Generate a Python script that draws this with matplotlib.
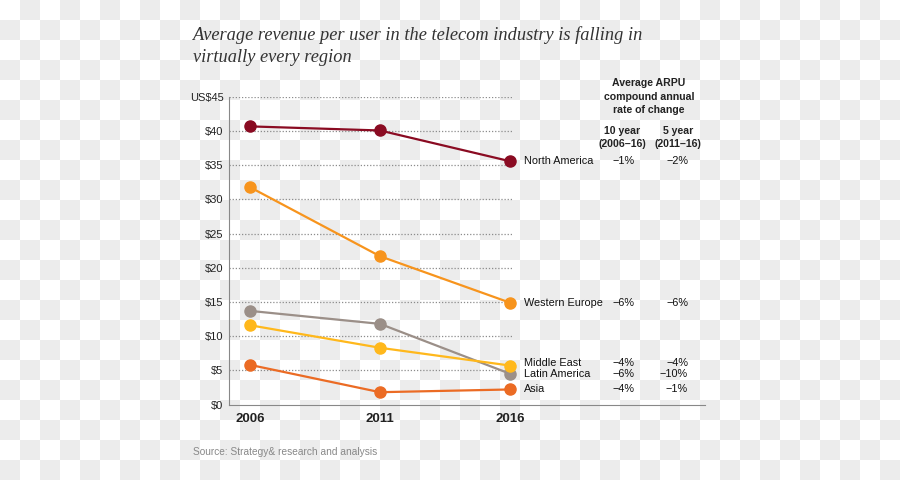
import numpy as np
import matplotlib
matplotlib.use("Agg")
import matplotlib.pyplot as plt

years = [2006, 2011, 2016]
regions = ["North America", "Western Europe", "Latin America", "Middle East", "Asia"]
north_america = [40.7, 40.1, 35.6]
western_europe = [31.8, 21.7, 14.9]
latin_america = [13.7, 11.8, 4.5]
middle_east = [11.6, 8.3, 5.7]
asia = [5.8, 1.8, 2.2]
cagr_10yr = ["\u22121%", "\u22126%", "\u22126%", "\u22124%", "\u22124%"]
cagr_5yr = ["\u22122%", "\u22126%", "\u221210%", "\u22124%", "\u22121%"]
y_ticks = [0, 5, 10, 15, 20, 25, 30, 35, 40, 45]
y_labels = ["$0", "$5", "$10", "$15", "$20", "$25", "$30", "$35", "$40", "US$45"]

colors = {
    "North America": "#8a0b22",
    "Western Europe": "#f7941d",
    "Latin America": "#9b8f88",
    "Middle East": "#ffb81c",
    "Asia": "#eb6b24",
}
series = {
    "North America": north_america,
    "Western Europe": western_europe,
    "Latin America": latin_america,
    "Middle East": middle_east,
    "Asia": asia,
}
# where each label row sits (data units)
label_y = {
    "North America": 35.6,
    "Western Europe": 14.9,
    "Middle East": 6.1,
    "Latin America": 4.5,
    "Asia": 2.3,
}

plt.rcParams["font.family"] = ["Liberation Sans", "DejaVu Sans"]

fig = plt.figure(figsize=(9, 4.8), dpi=100)

# checkered transparency-style background, 20 px squares
yy, xx = np.mgrid[0:480, 0:900]
checker = ((yy // 20 + xx // 20) % 2).astype(float)
rgb = np.where(checker[..., None] == 1, 236 / 255, 1.0) * np.ones((1, 1, 3))
fig.figimage(rgb, xo=0, yo=0, origin="upper", zorder=-10)

ax = fig.add_axes([229 / 900, 1 - 404.5 / 480, 476 / 900, 307.5 / 480])
ax.patch.set_alpha(0)
x_left = 2006 - 21 / 26
x_right = 2016 + 195 / 26
ax.set_xlim(x_left, x_right)
ax.set_ylim(0, 45)

for t in y_ticks[1:]:
    ax.plot([x_left, 2016.07], [t, t], color="#8c8c8c", lw=0.9,
            linestyle=(0, (1, 1.5)), zorder=1)

order = ["North America", "Western Europe", "Asia", "Latin America", "Middle East"]
for name in order:
    ax.plot(years, series[name], color=colors[name], lw=1.6, marker="o",
            markersize=8, zorder=3, solid_capstyle="round")

for s in ["top", "right"]:
    ax.spines[s].set_visible(False)
ax.spines["left"].set_color("#888888")
ax.spines["bottom"].set_color("#888888")

ax.set_yticks(y_ticks)
ax.set_yticklabels(y_labels, fontsize=8, color="#222222")
ax.tick_params(axis="y", length=0, pad=4)
ax.set_xticks(years)
ax.set_xticklabels([str(y) for y in years], fontsize=9.5, fontweight="bold", color="#222222")
ax.tick_params(axis="x", length=0, pad=6)

for i, name in enumerate(regions):
    yv = label_y[name]
    ax.text(2016.55, yv, name, fontsize=7.8, va="center", ha="left", color="#111111")
    ax.text(2020.8, yv, cagr_10yr[i], fontsize=7.8, va="center", ha="right", color="#111111")
    ax.text(2022.85, yv, cagr_5yr[i], fontsize=7.8, va="center", ha="right", color="#111111")

fig.text(649 / 900, 1 - 96.5 / 480, "Average ARPU\ncompound annual\nrate of change",
         fontsize=7.6, fontweight="bold", ha="center", va="center",
         color="#222222", linespacing=1.4)
fig.text(622 / 900, 1 - 137.5 / 480, "10 year\n(2006\u201316)", fontsize=7.6,
         fontweight="bold", ha="center", va="center", color="#222222", linespacing=1.3)
fig.text(678 / 900, 1 - 137.5 / 480, "5 year\n(2011\u201316)", fontsize=7.6,
         fontweight="bold", ha="center", va="center", color="#222222", linespacing=1.3)

serif = ["Liberation Serif", "DejaVu Serif"]
fig.text(193 / 900, 1 - 40 / 480,
         "Average revenue per user in the telecom industry is falling in",
         fontsize=13.2, style="italic", family=serif,
         color="#333333", ha="left", va="baseline")
fig.text(193 / 900, 1 - 62 / 480, "virtually every region",
         fontsize=13.2, style="italic", family=serif,
         color="#333333", ha="left", va="baseline")

fig.text(193 / 900, 1 - 452 / 480, "Source: Strategy& research and analysis",
         fontsize=7.3, color="#888888", ha="left", va="center")

fig.savefig("out.png", dpi=100)
